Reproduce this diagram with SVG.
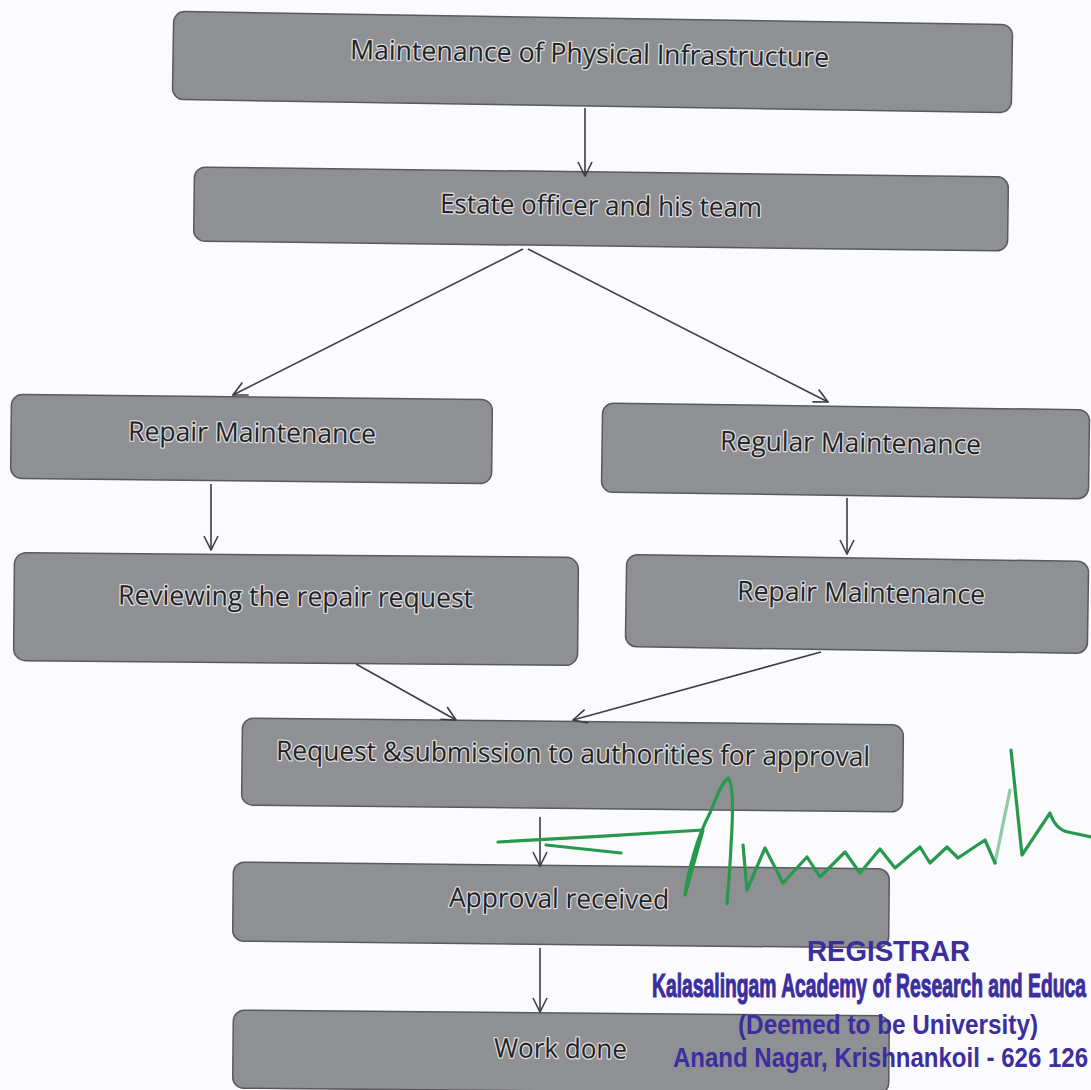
<svg xmlns="http://www.w3.org/2000/svg" width="1091" height="1090" viewBox="0 0 1091 1090">
  <defs>
    <style>
      .box { fill: #8f9093; stroke: #5a5a5e; stroke-width: 1.5; }
      .lbl { font-family: "Open Sans", "Noto Sans", sans-serif; font-size: 27px; fill: #232325; stroke: #dcdcde; stroke-width: 2.6; stroke-linejoin: round; paint-order: stroke; }
      .edge { stroke: #3e3e42; stroke-width: 1.6; fill: none; }
      .stamp { font-family: "Liberation Sans", Arial, sans-serif; font-weight: bold; fill: #3b2e9e; }
      .sig { fill: none; stroke: #27994c; stroke-width: 3.2; stroke-linecap: round; stroke-linejoin: round; }
    </style>
    <marker id="vhead" viewBox="0 0 16 16" refX="15" refY="8" markerWidth="16" markerHeight="16" markerUnits="userSpaceOnUse" orient="auto">
      <path d="M1,1 L15,8 L1,15" fill="none" stroke="#3e3e42" stroke-width="1.6"/>
    </marker>
  </defs>

  <rect x="0" y="0" width="1091" height="1090" fill="#fbfbfd"/>

  <!-- flowchart nodes -->
  <g id="node-maintenance" transform="rotate(0.9 592.5 62)">
    <rect class="box" x="173" y="18" width="839" height="88" rx="11"/>
    <text class="lbl" x="350" y="63" textLength="479" lengthAdjust="spacingAndGlyphs">Maintenance of Physical Infrastructure</text>
  </g>

  <g id="node-estate" transform="rotate(0.7 601 209)">
    <rect class="box" x="194" y="172" width="814" height="74" rx="11"/>
    <text class="lbl" x="440" y="215" textLength="322" lengthAdjust="spacingAndGlyphs">Estate officer and his team</text>
  </g>

  <g id="node-repair-left" transform="rotate(0.6 251.5 439)">
    <rect class="box" x="11" y="397" width="481" height="84" rx="11"/>
    <text class="lbl" x="128" y="442" textLength="248" lengthAdjust="spacingAndGlyphs">Repair Maintenance</text>
  </g>

  <g id="node-regular" transform="rotate(0.8 846 451)">
    <rect class="box" x="602" y="406.5" width="487" height="89" rx="11"/>
    <text class="lbl" x="720" y="452" textLength="261" lengthAdjust="spacingAndGlyphs">Regular Maintenance</text>
  </g>

  <g id="node-reviewing" transform="rotate(0.5 296 609)">
    <rect class="box" x="14" y="555" width="564" height="108" rx="12"/>
    <text class="lbl" x="118" y="606" textLength="355" lengthAdjust="spacingAndGlyphs">Reviewing the repair request</text>
  </g>

  <g id="node-repair-right" transform="rotate(0.85 857 604)">
    <rect class="box" x="626" y="558" width="462" height="92" rx="11"/>
    <text class="lbl" x="737" y="602" textLength="248" lengthAdjust="spacingAndGlyphs">Repair Maintenance</text>
  </g>

  <g id="node-request" transform="rotate(0.6 572.5 765)">
    <rect class="box" x="242" y="721.5" width="661" height="87" rx="11"/>
    <text class="lbl" x="276" y="763" textLength="594" lengthAdjust="spacingAndGlyphs">Request &amp;submission to authorities for approval</text>
  </g>

  <g id="node-approval" transform="rotate(0.6 561 905)">
    <rect class="box" x="233" y="865.5" width="656" height="79" rx="11"/>
    <text class="lbl" x="449" y="908" textLength="220" lengthAdjust="spacingAndGlyphs">Approval received</text>
  </g>

  <g id="node-workdone" transform="rotate(0.5 561 1053)">
    <rect class="box" x="233" y="1013" width="656" height="78" rx="11"/>
    <text class="lbl" x="494" y="1058" textLength="133" lengthAdjust="spacingAndGlyphs">Work done</text>
  </g>

  <!-- connectors -->
  <g id="connectors">
    <line class="edge" x1="585" y1="108" x2="585" y2="176" marker-end="url(#vhead)"/>
    <line class="edge" x1="523" y1="249" x2="233" y2="395" marker-end="url(#vhead)"/>
    <line class="edge" x1="528" y1="249" x2="828" y2="402" marker-end="url(#vhead)"/>
    <line class="edge" x1="211" y1="484" x2="211" y2="550" marker-end="url(#vhead)"/>
    <line class="edge" x1="847" y1="498" x2="847" y2="554" marker-end="url(#vhead)"/>
    <line class="edge" x1="356" y1="664" x2="456" y2="720" marker-end="url(#vhead)"/>
    <line class="edge" x1="821" y1="652" x2="573" y2="720" marker-end="url(#vhead)"/>
    <line class="edge" x1="540" y1="817" x2="540" y2="866" marker-end="url(#vhead)"/>
    <line class="edge" x1="540" y1="948" x2="540" y2="1012" marker-end="url(#vhead)"/>
  </g>

  <!-- ink signature -->
  <g id="signature">
    <path class="sig" d="M498,842 C560,839 640,834 703,830 L685,895 C688,870 698,835 710,813 C716,798 722,782 728,778 C734,784 733,815 731,845 C730,870 728,890 727,904"/>
    <path class="sig" stroke-width="2.2" d="M546,845 L621,853"/>
    <path class="sig" d="M743,845 L747,890 L765,848 L783,883 L807,857 L820,877 L845,852 L860,873 L880,849 L895,868 L920,847 L930,863 L947,847 L958,858 L985,840 L995,863"/>
    <path class="sig" stroke-width="1" stroke-opacity="0.5" d="M995,863 L1010,790"/>
    <path class="sig" d="M1011,750 L1022,855 L1050,813 C1053,822 1058,830 1068,832 L1091,837"/>
  </g>

  <!-- office stamp -->
  <g id="stamp">
    <text class="stamp" x="807" y="961" font-size="30" textLength="163" lengthAdjust="spacingAndGlyphs">REGISTRAR</text>
    <text class="stamp" x="652" y="997" font-size="33" stroke="#3b2e9e" stroke-width="1.1" textLength="434" lengthAdjust="spacingAndGlyphs">Kalasalingam Academy of Research and Educa</text>
    <text class="stamp" x="738" y="1034" font-size="28" textLength="300" lengthAdjust="spacingAndGlyphs">(Deemed to be University)</text>
    <text class="stamp" x="673" y="1067" font-size="28" textLength="415" lengthAdjust="spacingAndGlyphs">Anand Nagar, Krishnankoil - 626 126</text>
  </g>
</svg>
